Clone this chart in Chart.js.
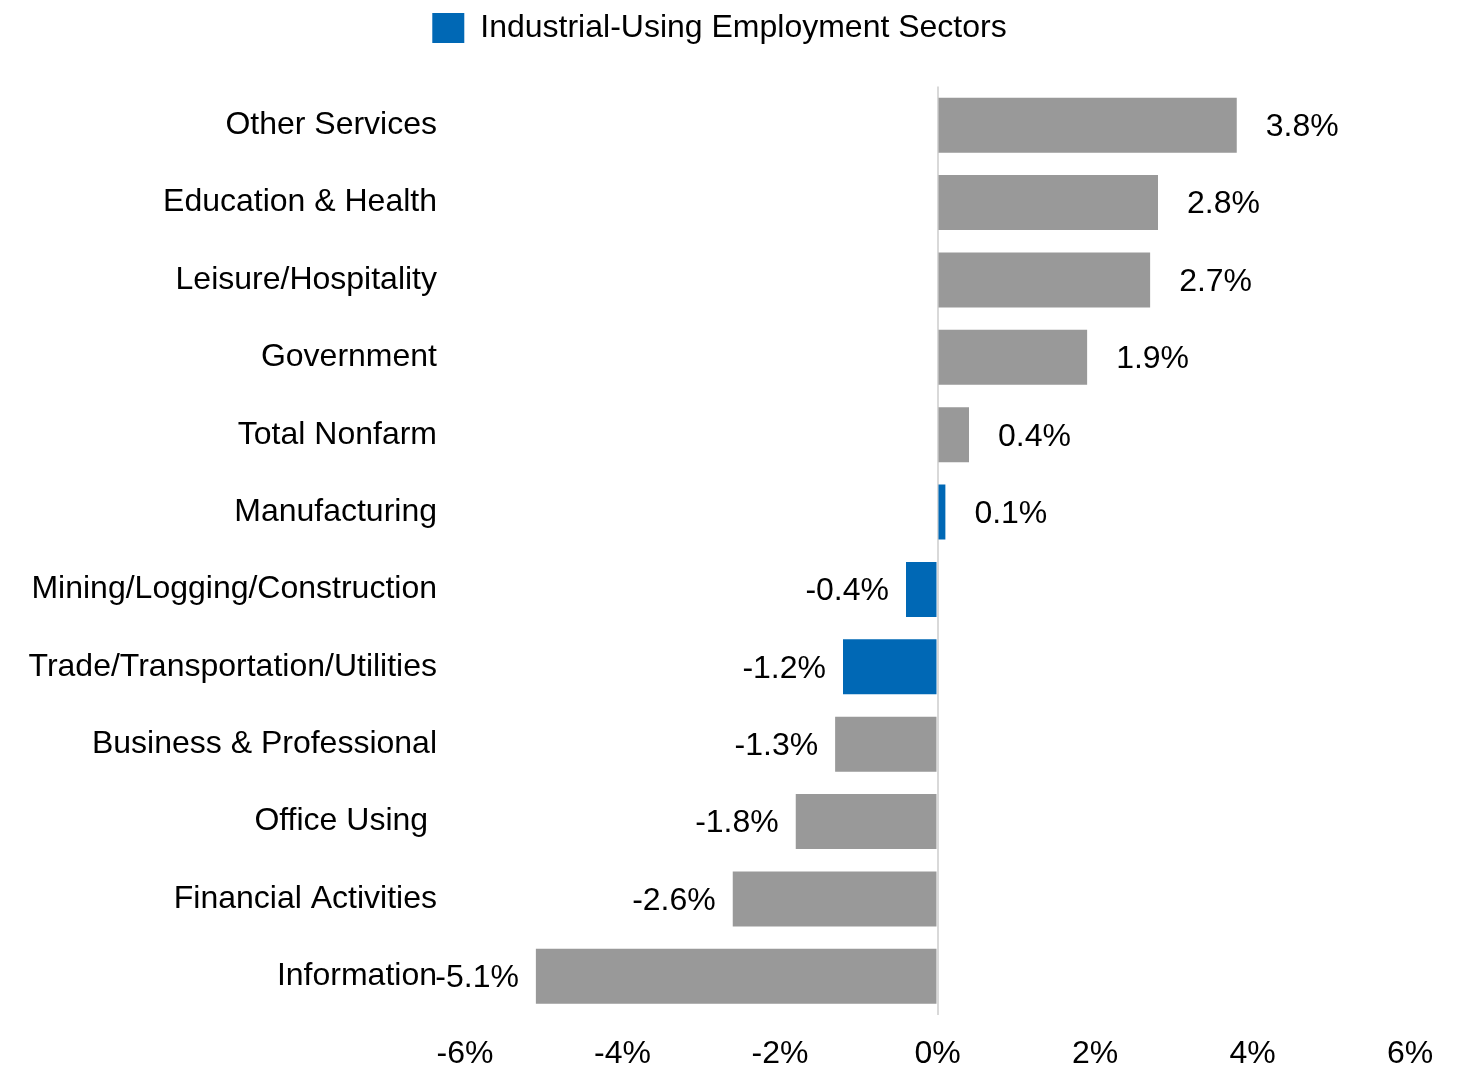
<!DOCTYPE html>
<html>
<head>
<meta charset="utf-8">
<script src="https://cdn.jsdelivr.net/npm/chart.js@4.4.1/dist/chart.umd.min.js"></script>
<style>
  html, body { margin: 0; padding: 0; background: #ffffff; }
  #wrap { width: 1471px; height: 1067px; }
</style>
</head>
<body>
<div id="wrap"><canvas id="chart"></canvas></div>
<script>
// Year-over-year employment change by sector (%)
const sectors = [
  'Other Services',
  'Education & Health',
  'Leisure/Hospitality',
  'Government',
  'Total Nonfarm',
  'Manufacturing',
  'Mining/Logging/Construction',
  'Trade/Transportation/Utilities',
  'Business & Professional',
  'Office Using ',
  'Financial Activities',
  'Information'
];
const changePct = [3.8, 2.8, 2.7, 1.9, 0.4, 0.1, -0.4, -1.2, -1.3, -1.8, -2.6, -5.1];
const industrialUsing = [false, false, false, false, false, true, true, true, false, false, false, false];
const xTicks = [-6, -4, -2, 0, 2, 4, 6];
const legendLabel = 'Industrial-Using Employment Sectors';

const GREY = '#999999';
const BLUE = '#0068b5';
const FONT = "'Liberation Sans', Arial, sans-serif";

// Value labels at the end of each bar
const valueLabels = {
  id: 'valueLabels',
  afterDatasetsDraw(chart) {
    const ctx = chart.ctx;
    const meta = chart.getDatasetMeta(0);
    ctx.save();
    ctx.font = '32px ' + FONT;
    ctx.fillStyle = '#000000';
    ctx.textBaseline = 'middle';
    meta.data.forEach((bar, i) => {
      const v = changePct[i];
      const text = v.toFixed(1) + '%';
      if (v >= 0) {
        ctx.textAlign = 'left';
        ctx.fillText(text, bar.x + 29, bar.y + 2);
      } else {
        ctx.textAlign = 'right';
        ctx.fillText(text, bar.x - 17, bar.y + 2);
      }
    });
    ctx.restore();
  }
};

// Extra room between the legend and the plot
const legendGap = {
  id: 'legendGap',
  beforeInit(chart) {
    const origFit = chart.legend.fit;
    chart.legend.fit = function () {
      origFit.bind(chart.legend)();
      this.height += 32.5;
    };
  }
};

new Chart(document.getElementById('chart'), {
  type: 'bar',
  data: {
    labels: sectors,
    datasets: [{
      label: legendLabel,
      data: changePct,
      backgroundColor: industrialUsing.map(b => b ? BLUE : GREY),
      barPercentage: 0.71,
      categoryPercentage: 1.0,
      borderWidth: 0
    }]
  },
  options: {
    indexAxis: 'y',
    responsive: true,
    maintainAspectRatio: false,
    animation: false,
    layout: { padding: { top: 2, left: 29, right: 61, bottom: 0 } },
    scales: {
      x: {
        min: -6,
        max: 6,
        afterBuildTicks(axis) { axis.ticks = xTicks.map(v => ({ value: v })); },
        afterFit(axis) { axis.height = 52; },
        ticks: {
          font: { family: FONT, size: 32, lineHeight: 1 },
          color: '#000000',
          padding: 23,
          maxRotation: 0,
          callback: v => v + '%'
        },
        grid: {
          drawTicks: false,
          lineWidth: 2,
          color: ctx => (ctx.tick && ctx.tick.value === 0) ? '#d9d9d9' : 'rgba(0,0,0,0)'
        },
        border: { display: false }
      },
      y: {
        afterFit(axis) { axis.width = 436; },
        ticks: {
          font: { family: FONT, size: 32 },
          color: '#000000',
          padding: 28,
          autoSkip: false
        },
        grid: { display: false, drawTicks: false },
        border: { display: false }
      }
    },
    plugins: {
      tooltip: { enabled: false },
      legend: {
        position: 'top',
        align: 'center',
        labels: {
          boxWidth: 32,
          boxHeight: 30,
          padding: 10,
          color: '#1a1a1a',
          font: { family: FONT, size: 32 },
          generateLabels: () => [{
            text: legendLabel,
            fillStyle: BLUE,
            strokeStyle: BLUE,
            lineWidth: 0,
            hidden: false,
            datasetIndex: 0
          }]
        }
      }
    }
  },
  plugins: [valueLabels, legendGap]
});
</script>
</body>
</html>
